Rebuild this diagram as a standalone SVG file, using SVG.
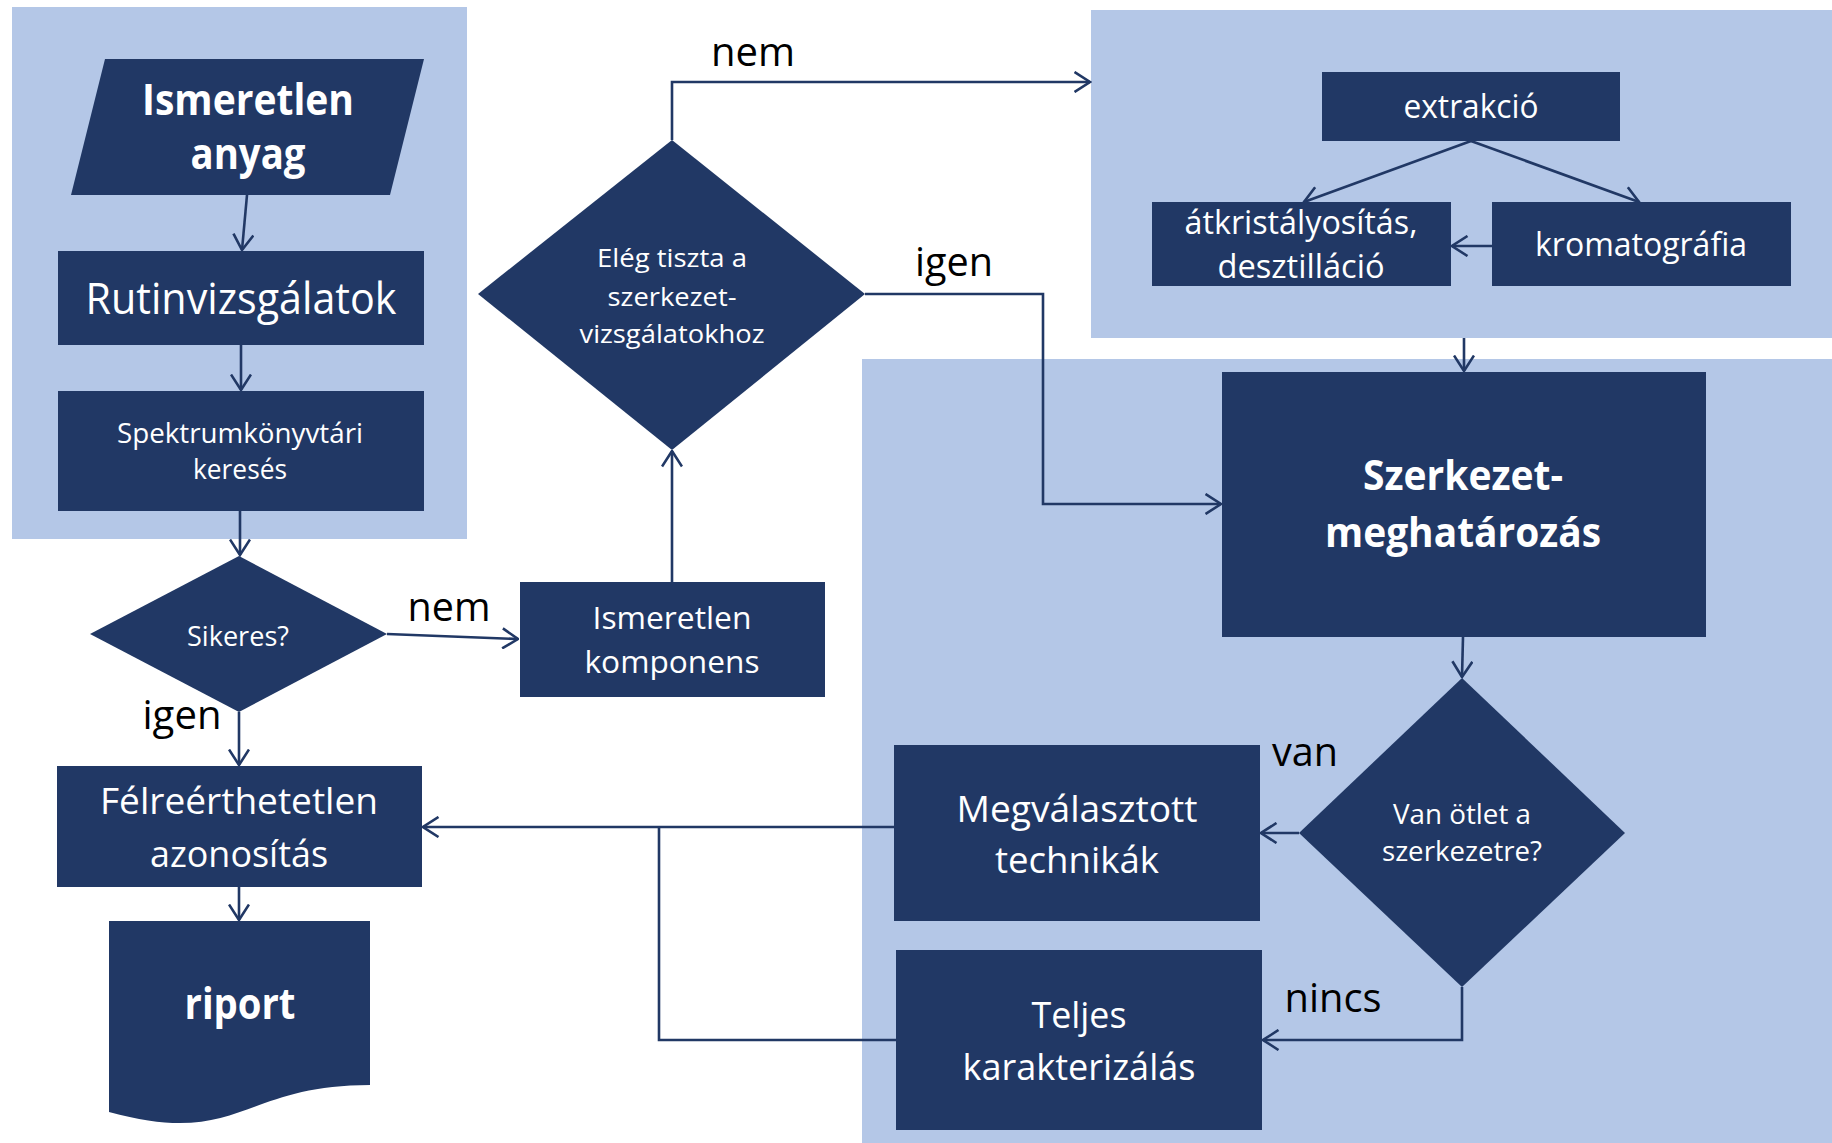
<svg xmlns="http://www.w3.org/2000/svg" width="1832" height="1143" viewBox="0 0 1832 1143">
<defs>
<style>
.panel{fill:#B4C7E7}
.node{fill:#213865}
.t{font-family:"Open Sans","Liberation Sans",sans-serif;fill:#fff;text-anchor:middle}
.b{font-weight:bold}
.lbl{font-family:"Open Sans","Liberation Sans",sans-serif;fill:#000;font-size:40px;text-anchor:middle}
.c{fill:none;stroke:#213865;stroke-width:2.6;stroke-linejoin:miter}
</style>
<marker id="ah" viewBox="0 0 18 22" refX="16.5" refY="11" markerWidth="18" markerHeight="22" markerUnits="userSpaceOnUse" orient="auto">
<path d="M1,1 L16.5,11 L1,21" fill="none" stroke="#213865" stroke-width="2.6"/>
</marker>
</defs>
<rect width="1832" height="1143" fill="#fff"/>
<g id="panels">
<rect class="panel" x="12" y="7" width="455" height="532"/>
<rect class="panel" x="1091" y="10" width="741" height="328"/>
<rect class="panel" x="862" y="359" width="970" height="784"/>
</g>
<g id="connectors">
<path class="c" d="M247,195 L242,250" marker-end="url(#ah)"/>
<path class="c" d="M241,345 L241,390" marker-end="url(#ah)"/>
<path class="c" d="M240,511 L240,555" marker-end="url(#ah)"/>
<path class="c" d="M239,712 L239,765" marker-end="url(#ah)"/>
<path class="c" d="M239,887 L239,920" marker-end="url(#ah)"/>
<path class="c" d="M387,634 L518,639" marker-end="url(#ah)"/>
<path class="c" d="M672,582 L672,451" marker-end="url(#ah)"/>
<path class="c" d="M672,140 L672,82 L1090,82" marker-end="url(#ah)"/>
<path class="c" d="M865,294 L1043,294 L1043,504 L1221,504" marker-end="url(#ah)"/>
<path class="c" d="M1471,141 L1304,202" marker-end="url(#ah)"/>
<path class="c" d="M1471,141 L1639,202" marker-end="url(#ah)"/>
<path class="c" d="M1492,246 L1452,246" marker-end="url(#ah)"/>
<path class="c" d="M1464,338 L1464,371" marker-end="url(#ah)"/>
<path class="c" d="M1463,637 L1462,677" marker-end="url(#ah)"/>
<path class="c" d="M1299,833 L1261,833" marker-end="url(#ah)"/>
<path class="c" d="M1462,987 L1462,1040 L1263,1040" marker-end="url(#ah)"/>
<path class="c" d="M894,827 L423,827" marker-end="url(#ah)"/>
<path class="c" d="M896,1040 L659,1040 L659,827"/>
</g>
<g id="n-anyag">
<polygon class="node" points="105,59 424,59 390,195 71,195"/>
<text class="t b" font-size="43" x="248" y="115" textLength="212" lengthAdjust="spacingAndGlyphs">Ismeretlen</text>
<text class="t b" font-size="43" x="248" y="169" textLength="115" lengthAdjust="spacingAndGlyphs">anyag</text>
</g>
<g id="n-rutin">
<rect class="node" x="58" y="251" width="366" height="94"/>
<text class="t" font-size="43" x="241" y="314" textLength="311" lengthAdjust="spacingAndGlyphs">Rutinvizsgálatok</text>
</g>
<g id="n-spektrum">
<rect class="node" x="58" y="391" width="366" height="120"/>
<text class="t" font-size="28" x="240" y="443" textLength="246" lengthAdjust="spacingAndGlyphs">Spektrumkönyvtári</text>
<text class="t" font-size="28" x="240" y="479" textLength="94" lengthAdjust="spacingAndGlyphs">keresés</text>
</g>
<g id="n-sikeres">
<polygon class="node" points="239,556 387,634 239,712 90,634"/>
<text class="t" font-size="27" x="238" y="646" textLength="102" lengthAdjust="spacingAndGlyphs">Sikeres?</text>
</g>
<g id="n-felre">
<rect class="node" x="57" y="766" width="365" height="121"/>
<text class="t" font-size="36" x="239" y="814" textLength="278" lengthAdjust="spacingAndGlyphs">Félreérthetetlen</text>
<text class="t" font-size="36" x="239" y="867" textLength="178" lengthAdjust="spacingAndGlyphs">azonosítás</text>
</g>
<g id="n-riport">
<path class="node" d="M109,921 H370 V1085 C240,1085 240,1148 109,1112 Z"/>
<text class="t b" font-size="43" x="240" y="1019" textLength="111" lengthAdjust="spacingAndGlyphs">riport</text>
</g>
<g id="n-komponens">
<rect class="node" x="520" y="582" width="305" height="115"/>
<text class="t" font-size="31" x="672" y="629" textLength="159" lengthAdjust="spacingAndGlyphs">Ismeretlen</text>
<text class="t" font-size="31" x="672" y="673" textLength="175" lengthAdjust="spacingAndGlyphs">komponens</text>
</g>
<g id="n-eleg">
<polygon class="node" points="672,140 865,294 672,450 478,294"/>
<text class="t" font-size="26" x="672" y="267" textLength="150" lengthAdjust="spacingAndGlyphs">Elég tiszta a</text>
<text class="t" font-size="26" x="672" y="306" textLength="129" lengthAdjust="spacingAndGlyphs">szerkezet-</text>
<text class="t" font-size="26" x="672" y="343" textLength="185" lengthAdjust="spacingAndGlyphs">vizsgálatokhoz</text>
</g>
<g id="n-extrakcio">
<rect class="node" x="1322" y="72" width="298" height="69"/>
<text class="t" font-size="32" x="1471" y="118" textLength="135" lengthAdjust="spacingAndGlyphs">extrakció</text>
</g>
<g id="n-atkrist">
<rect class="node" x="1152" y="202" width="299" height="84"/>
<text class="t" font-size="32" x="1301" y="234" textLength="233" lengthAdjust="spacingAndGlyphs">átkristályosítás,</text>
<text class="t" font-size="32" x="1301" y="278" textLength="167" lengthAdjust="spacingAndGlyphs">desztilláció</text>
</g>
<g id="n-kromat">
<rect class="node" x="1492" y="202" width="299" height="84"/>
<text class="t" font-size="32" x="1641" y="256" textLength="212" lengthAdjust="spacingAndGlyphs">kromatográfia</text>
</g>
<g id="n-szerkezet">
<rect class="node" x="1222" y="372" width="484" height="265"/>
<text class="t b" font-size="41" x="1463" y="490" textLength="200" lengthAdjust="spacingAndGlyphs">Szerkezet-</text>
<text class="t b" font-size="41" x="1463" y="547" textLength="276" lengthAdjust="spacingAndGlyphs">meghatározás</text>
</g>
<g id="n-otlet">
<polygon class="node" points="1462,678 1625,833 1462,987 1299,833"/>
<text class="t" font-size="27" x="1462" y="824" textLength="138" lengthAdjust="spacingAndGlyphs">Van ötlet a</text>
<text class="t" font-size="27" x="1462" y="861" textLength="160" lengthAdjust="spacingAndGlyphs">szerkezetre?</text>
</g>
<g id="n-megval">
<rect class="node" x="894" y="745" width="366" height="176"/>
<text class="t" font-size="37" x="1077" y="822" textLength="241" lengthAdjust="spacingAndGlyphs">Megválasztott</text>
<text class="t" font-size="37" x="1077" y="873" textLength="164" lengthAdjust="spacingAndGlyphs">technikák</text>
</g>
<g id="n-teljes">
<rect class="node" x="896" y="950" width="366" height="180"/>
<text class="t" font-size="37" x="1079" y="1028" textLength="95" lengthAdjust="spacingAndGlyphs">Teljes</text>
<text class="t" font-size="37" x="1079" y="1080" textLength="233" lengthAdjust="spacingAndGlyphs">karakterizálás</text>
</g>
<g id="labels">
<text class="lbl" x="182" y="729" textLength="79" lengthAdjust="spacingAndGlyphs">igen</text>
<text class="lbl" x="449" y="621" textLength="83" lengthAdjust="spacingAndGlyphs">nem</text>
<text class="lbl" x="753" y="66" textLength="84" lengthAdjust="spacingAndGlyphs">nem</text>
<text class="lbl" x="954" y="276" textLength="78" lengthAdjust="spacingAndGlyphs">igen</text>
<text class="lbl" x="1305" y="766" textLength="66" lengthAdjust="spacingAndGlyphs">van</text>
<text class="lbl" x="1333" y="1012" textLength="97" lengthAdjust="spacingAndGlyphs">nincs</text>
</g>
</svg>
